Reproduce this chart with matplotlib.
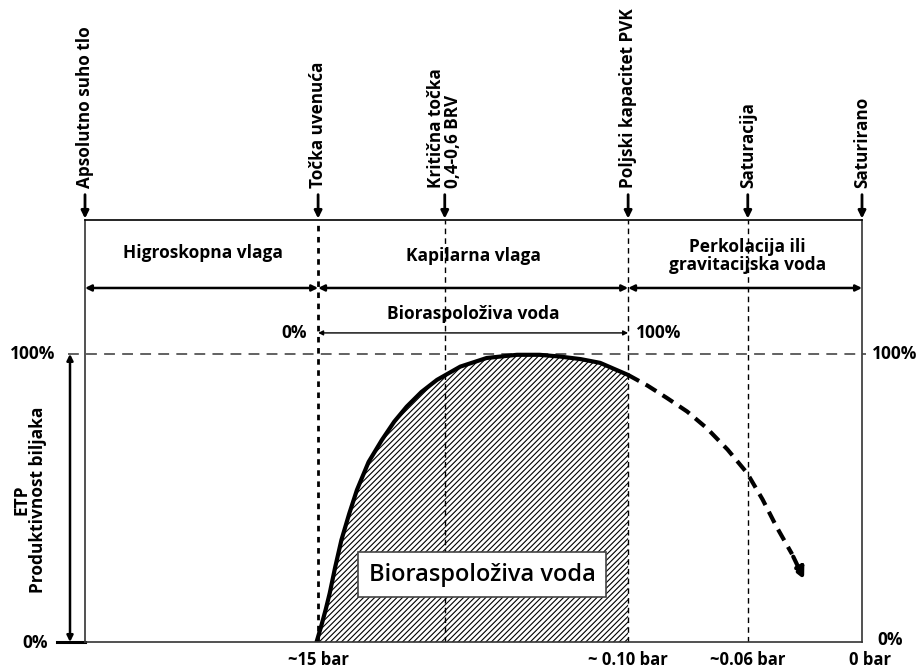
import numpy as np
import matplotlib.pyplot as plt

plt.rcParams['font.family'] = ['Open Sans', 'DejaVu Sans']
plt.rcParams['font.weight'] = 'bold'
plt.rcParams['hatch.linewidth'] = 0.8

# soil moisture axis: 0 = absolutely dry, 100 = saturated
marker_x = [0.0, 30.0, 46.3, 69.9, 85.3, 100.0]
marker_labels = ['Apsolutno suho tlo', 'Točka uvenuća', 'Kritična točka\n0,4-0,6 BRV',
                 'Poljski kapacitet PVK', 'Saturacija', 'Saturirano']

pressure_x = [30.0, 69.9, 85.3, 101.0]
pressure_labels = ['~15 bar', '~ 0.10 bar', '~0.06 bar', '0 bar']

# ETP / plant productivity (%) between wilting point and field capacity
etp_x = [29.8, 30.4, 31.0, 31.5, 32.2, 33.0, 34.0, 35.0, 36.5, 38.2, 39.8, 41.4, 43.3,
         45.3, 48.3, 51.7, 55.6, 58.5, 61.1, 63.8, 66.3, 69.9]
etp_y = [0.0, 5.5, 11.5, 17.0, 26.0, 35.4, 44.5, 52.8, 62.5, 70.1, 76.5, 81.7, 86.8,
         91.0, 95.6, 98.6, 99.7, 99.7, 99.1, 98.2, 96.9, 92.7]

# drop above field capacity (percolation)
perc_x = [69.9, 72.4, 74.9, 77.5, 80.0, 82.7, 85.2, 87.2, 89.0, 91.0, 92.7]
perc_y = [92.7, 89.0, 84.7, 80.0, 74.3, 66.8, 58.7, 49.5, 40.0, 30.5, 20.9]

fig = plt.figure(figsize=(9.21, 6.71), dpi=100)
ax = fig.add_axes([85 / 921, 29 / 671, 777 / 921, 422 / 671])
ax.set_xlim(0, 100)
ax.set_ylim(0, 146.5)
ax.set_xticks([])
ax.set_yticks([])
for s in ax.spines.values():
    s.set_color('#333333')
    s.set_linewidth(1.2)
ax.spines['top'].set_color('black')

# vertical boundaries
ax.plot([marker_x[1]] * 2, [0, 146.5], color='black', lw=2, ls=(0, (2, 2)))
for xv in marker_x[2:5]:
    ax.plot([xv, xv], [0, 146.5], color='black', lw=1, ls=(0, (4, 3)))

# 100% reference line
ax.plot([-2.2, 100.5], [100, 100], color='#555555', lw=1.3, ls=(0, (6, 4)), clip_on=False)

# hatched available water
ax.fill_between(etp_x, etp_y, 0, facecolor='white', edgecolor='black', hatch='//////', lw=0)
ax.plot(etp_x, etp_y, color='black', lw=3, solid_capstyle='round', solid_joinstyle='round')
ax.plot(perc_x[:-1], perc_y[:-1], color='black', lw=3, ls=(0, (3, 1.8)))
ax.annotate('', xy=(perc_x[-1], perc_y[-1]), xytext=(perc_x[-2], perc_y[-2]),
            arrowprops=dict(arrowstyle='-|>', color='black', lw=3, mutation_scale=16,
                            linestyle='--'))

# top markers
for xv, lab in zip(marker_x, marker_labels):
    ax.annotate('', xy=(xv, 147.0), xytext=(xv, 155.3), annotation_clip=False,
                arrowprops=dict(arrowstyle='-|>', color='black', lw=2, mutation_scale=11,
                                shrinkA=0, shrinkB=0))
    ax.text(xv, 157.6, lab, rotation=90, ha='center', va='bottom', multialignment='left',
            fontsize=12.3, linespacing=0.95, clip_on=False)

# region arrows
arrow_kw = dict(arrowstyle='<|-|>', color='black', lw=1.8, mutation_scale=9, shrinkA=0, shrinkB=0)
for x0, x1 in [(0, 30.0), (30.0, 69.9), (69.9, 100)]:
    ax.annotate('', xy=(x1, 122.9), xytext=(x0, 122.9), arrowprops=arrow_kw, annotation_clip=False)
ax.annotate('', xy=(69.9, 107.3), xytext=(30.0, 107.3), annotation_clip=False,
            arrowprops=dict(arrowstyle='<|-|>', color='black', lw=1, mutation_scale=7,
                            shrinkA=0, shrinkB=0))

fs = 12.5
ax.text(15.2, 135.1, 'Higroskopna vlaga', ha='center', va='center', fontsize=fs)
ax.text(50.0, 134.0, 'Kapilarna vlaga', ha='center', va='center', fontsize=fs)
ax.text(85.3, 134.0, 'Perkolacija ili\ngravitacijska voda', ha='center', va='center',
        fontsize=fs, linespacing=1.0)
ax.text(50.0, 113.9, 'Bioraspoloživa voda', ha='center', va='center', fontsize=fs)
ax.text(28.6, 107.3, '0%', ha='right', va='center', fontsize=fs)
ax.text(70.9, 107.3, '100%', ha='left', va='center', fontsize=fs)

# productivity axis
ax.text(101.3, 100, '100%', ha='left', va='center', fontsize=fs, clip_on=False)
ax.text(102.0, 0.8, '0%', ha='left', va='center', fontsize=fs, clip_on=False)
ax.text(-3.8, 100, '100%', ha='right', va='center', fontsize=fs, clip_on=False)
ax.text(-4.8, -0.3, '0%', ha='right', va='center', fontsize=fs, clip_on=False)
ax.annotate('', xy=(-1.93, 100), xytext=(-1.93, 0), annotation_clip=False,
            arrowprops=dict(arrowstyle='<|-|>', color='black', lw=1.8, mutation_scale=9,
                            shrinkA=0, shrinkB=0))
ax.plot([-3.6, 0], [0, 0], color='black', lw=2.2, clip_on=False)
ax.text(-7.1, 49.3, 'ETP\nProduktivnost biljaka', rotation=90, ha='center', va='center',
        fontsize=fs, linespacing=0.95, clip_on=False)

for xv, lab in zip(pressure_x, pressure_labels):
    ax.text(xv, -6.3, lab, ha='center', va='center', fontsize=12, clip_on=False)

ax.text(51.1, 23.4, 'Bioraspoloživa voda', ha='center', va='center', fontsize=17,
        fontweight='semibold',
        bbox=dict(boxstyle='square,pad=0.45', facecolor='white', edgecolor='#444444', lw=1.2))

fig.savefig('out.png', dpi=100)
